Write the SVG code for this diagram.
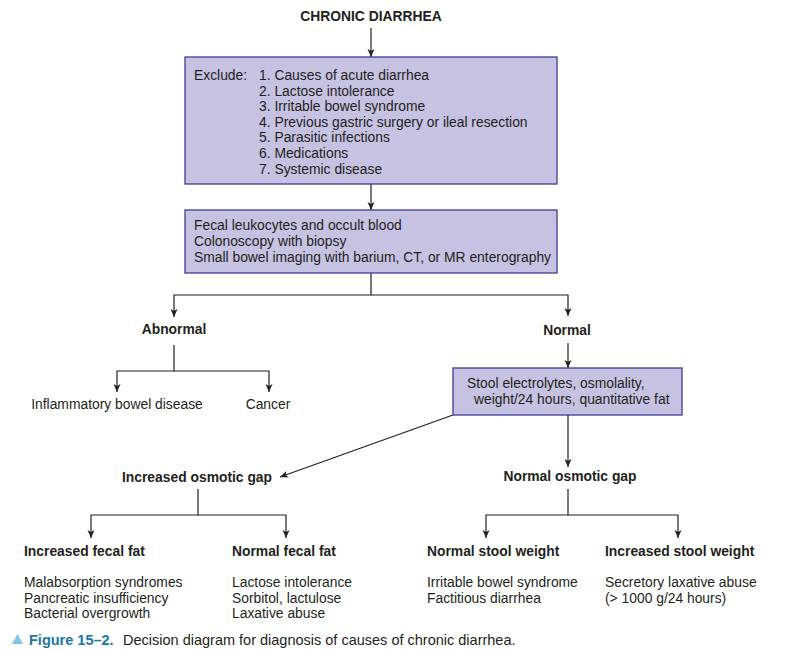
<svg xmlns="http://www.w3.org/2000/svg" width="793" height="650" viewBox="0 0 793 650">
<defs>
<marker id="ah" markerUnits="userSpaceOnUse" markerWidth="10" markerHeight="8" refX="8" refY="3.5" orient="auto">
<path d="M0,0 L8,3.5 L0,7 L2,3.5 z" fill="#231f20"/>
</marker>
<style>
.t{font-family:"Liberation Sans",Arial,sans-serif;font-size:13.85px;fill:#231f20}
.b{font-weight:bold}
.m{text-anchor:middle}
.box{fill:#c6c2e2;stroke:#3c3c96;stroke-width:1.3}
.c{fill:none;stroke:#231f20;stroke-width:1.2}
.cap{font-family:"Liberation Sans",Arial,sans-serif;font-size:14.5px;fill:#231f20}
</style>
</defs>
<rect width="793" height="650" fill="#ffffff"/>
<g id="connectors">
<path class="c" d="M371,28 V57" marker-end="url(#ah)"/>
<path class="c" d="M371,184 V210" marker-end="url(#ah)"/>
<path class="c" d="M371,273 V295 H174 V317" marker-end="url(#ah)"/>
<path class="c" d="M371,295 H568 V316" marker-end="url(#ah)"/>
<path class="c" d="M174,345 V371 H117 V392" marker-end="url(#ah)"/>
<path class="c" d="M174,371 H269 V392" marker-end="url(#ah)"/>
<path class="c" d="M568,343 V368" marker-end="url(#ah)"/>
<path class="c" d="M568,415 V467" marker-end="url(#ah)"/>
<path class="c" d="M453,415 L280,477" stroke-width="0.9" marker-end="url(#ah)"/>
<path class="c" d="M198,489 V515 H91 V538" marker-end="url(#ah)"/>
<path class="c" d="M198,515 H286 V538" marker-end="url(#ah)"/>
<path class="c" d="M568,489 V515 H486 V538" marker-end="url(#ah)"/>
<path class="c" d="M568,515 H678 V538" marker-end="url(#ah)"/>
</g>
<g id="title">
<text class="t b m" x="371" y="21">CHRONIC DIARRHEA</text>
</g>
<g id="exclude">
<rect class="box" x="185" y="57" width="372" height="127"/>
<text class="t" x="194" y="80">Exclude:</text>
<text class="t" x="259" y="80">1. Causes of acute diarrhea</text>
<text class="t" x="259" y="95.6">2. Lactose intolerance</text>
<text class="t" x="259" y="111.2">3. Irritable bowel syndrome</text>
<text class="t" x="259" y="126.8">4. Previous gastric surgery or ileal resection</text>
<text class="t" x="259" y="142.4">5. Parasitic infections</text>
<text class="t" x="259" y="158">6. Medications</text>
<text class="t" x="259" y="173.6">7. Systemic disease</text>
</g>
<g id="tests">
<rect class="box" x="185" y="210" width="372" height="63"/>
<text class="t" x="194" y="230">Fecal leukocytes and occult blood</text>
<text class="t" x="194" y="245.8">Colonoscopy with biopsy</text>
<text class="t" x="194" y="261.5">Small bowel imaging with barium, CT, or MR enterography</text>
</g>
<g id="abnormal"><text class="t b m" x="174" y="334">Abnormal</text></g>
<g id="normal"><text class="t b m" x="567" y="335">Normal</text></g>
<g id="ibd"><text class="t m" x="117" y="409">Inflammatory bowel disease</text></g>
<g id="cancer"><text class="t m" x="268" y="409">Cancer</text></g>
<g id="stool">
<rect class="box" x="453" y="368" width="229" height="47"/>
<text class="t" x="467" y="388">Stool electrolytes, osmolality,</text>
<text class="t" x="474" y="404">weight/24 hours, quantitative fat</text>
</g>
<g id="inc-gap"><text class="t b m" x="197" y="481.5">Increased osmotic gap</text></g>
<g id="norm-gap"><text class="t b m" x="570" y="480.5">Normal osmotic gap</text></g>
<g id="inc-fat">
<text class="t b" x="24" y="556">Increased fecal fat</text>
<text class="t" x="24" y="587">Malabsorption syndromes</text>
<text class="t" x="24" y="602.7">Pancreatic insufficiency</text>
<text class="t" x="24" y="618.3">Bacterial overgrowth</text>
</g>
<g id="norm-fat">
<text class="t b" x="232" y="556">Normal fecal fat</text>
<text class="t" x="232" y="587">Lactose intolerance</text>
<text class="t" x="232" y="602.7">Sorbitol, lactulose</text>
<text class="t" x="232" y="618.3">Laxative abuse</text>
</g>
<g id="norm-weight">
<text class="t b" x="427" y="556">Normal stool weight</text>
<text class="t" x="427" y="587">Irritable bowel syndrome</text>
<text class="t" x="427" y="602.7">Factitious diarrhea</text>
</g>
<g id="inc-weight">
<text class="t b" x="605" y="556">Increased stool weight</text>
<text class="t" x="605" y="587">Secretory laxative abuse</text>
<text class="t" x="605" y="602.7">(&gt; 1000 g/24 hours)</text>
</g>
<g id="caption">
<path d="M12,644 L17.5,634 L23,644 z" fill="#7fc4e0"/>
<text class="cap b" x="29" y="645" style="fill:#1b75a6">Figure 15–2.</text>
<text class="cap" x="123" y="645">Decision diagram for diagnosis of causes of chronic diarrhea.</text>
</g>
</svg>
